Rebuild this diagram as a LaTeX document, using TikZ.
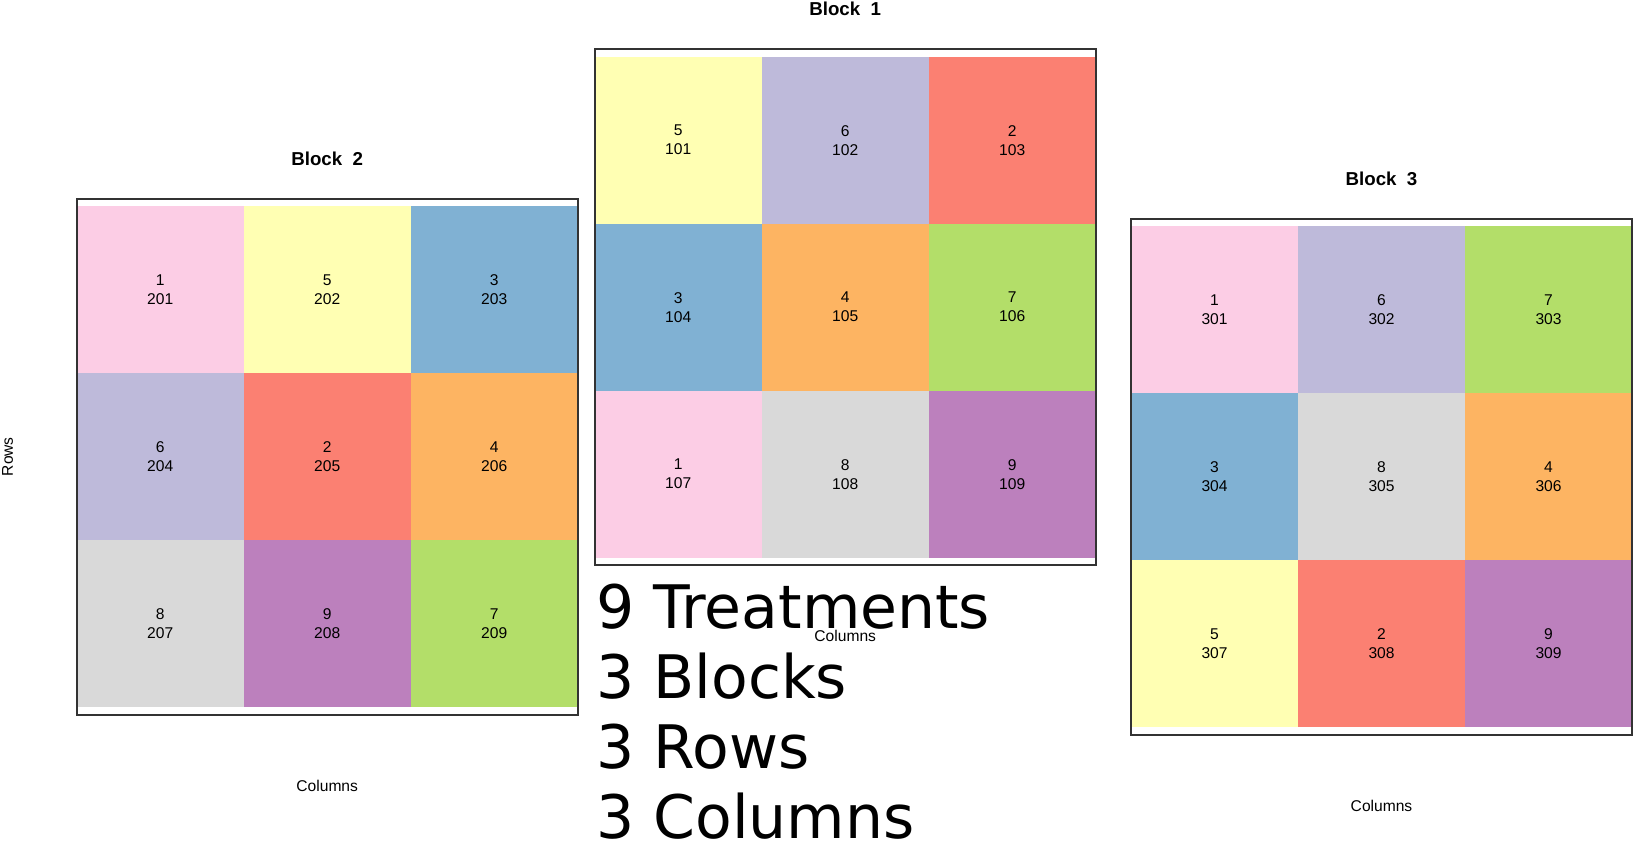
\documentclass[tikz,border=0pt]{standalone}
\usepackage{fontspec}
\setmainfont{Liberation Sans}
\newfontfamily\bigfont{DejaVu Sans}
\definecolor{c1}{HTML}{FCCDE5}
\definecolor{c2}{HTML}{FB8072}
\definecolor{c3}{HTML}{80B1D3}
\definecolor{c4}{HTML}{FDB462}
\definecolor{c5}{HTML}{FFFFB3}
\definecolor{c6}{HTML}{BEBADA}
\definecolor{c7}{HTML}{B3DE69}
\definecolor{c8}{HTML}{D9D9D9}
\definecolor{c9}{HTML}{BC80BD}
\definecolor{framecol}{HTML}{333333}
\tikzset{
  cell/.style={minimum width=83.5pt, minimum height=83.5pt, inner sep=0pt, outer sep=0pt,
    align=center, anchor=north west, font=\fontsize{7.8}{9.5}\selectfont},
  blockframe/.style={draw=framecol, line width=1pt, minimum width=250.5pt, minimum height=258pt,
    inner sep=0pt, outer sep=0pt, anchor=north west},
  blocktitle/.style={font=\fontsize{9.35}{11}\selectfont\bfseries, inner sep=0pt},
  axlab/.style={font=\fontsize{7.8}{9.5}\selectfont, inner sep=0pt},
  bigtxt/.style={font=\bigfont\fontsize{30}{35}\selectfont, anchor=base west, inner sep=0pt}
}
\begin{document}
\begin{tikzpicture}[x=0.5pt,y=-0.5pt]
\useasboundingbox (0,0) rectangle (1633,841);
% Block 2
\foreach \r/\c/\t/\p in {0/0/1/201,0/1/5/202,0/2/3/203,1/0/6/204,1/1/2/205,1/2/4/206,2/0/8/207,2/1/9/208,2/2/7/209}
  \node[cell, fill=c\t] (p\p) at ({76.7+\c*167},{206+\r*167}) {\t\\\p};
\node[blockframe] (f2) at (76.7,198.7) {};
\node[blocktitle] (t2) at (327.2,159) {Block\ \ 2};
\node[axlab] (col2) at (327.2,786) {Columns};
\node[axlab, rotate=90] (rows2) at (7.5,456.7) {Rows};
% Block 1
\foreach \r/\c/\t/\p in {0/0/5/101,0/1/6/102,0/2/2/103,1/0/3/104,1/1/4/105,1/2/7/106,2/0/1/107,2/1/8/108,2/2/9/109}
  \node[cell, fill=c\t] (p\p) at ({594.7+\c*167},{56.7+\r*167}) {\t\\\p};
\node[blockframe] (f1) at (594.7,49) {};
\node[blocktitle] (t1) at (845.2,9.3) {Block\ \ 1};
% Block 3
\foreach \r/\c/\t/\p in {0/0/1/301,0/1/6/302,0/2/7/303,1/0/3/304,1/1/8/305,1/2/4/306,2/0/5/307,2/1/2/308,2/2/9/309}
  \node[cell, fill=c\t] (p\p) at ({1131+\c*167},{226+\r*167}) {\t\\\p};
\node[blockframe] (f3) at (1131,218.7) {};
\node[blocktitle] (t3) at (1381.5,179) {Block\ \ 3};
\node[axlab] (col3) at (1381.5,806) {Columns};
% summary text
\node[bigtxt] (s1) at (596,628.3) {9 Treatments};
\node[bigtxt] (s2) at (596,698.3) {3 Blocks};
\node[bigtxt] (s3) at (596,768.3) {3 Rows};
\node[bigtxt] (s4) at (596,838.3) {3 Columns};
\node[axlab] (col1) at (845.2,636) {Columns};
\end{tikzpicture}
\end{document}
